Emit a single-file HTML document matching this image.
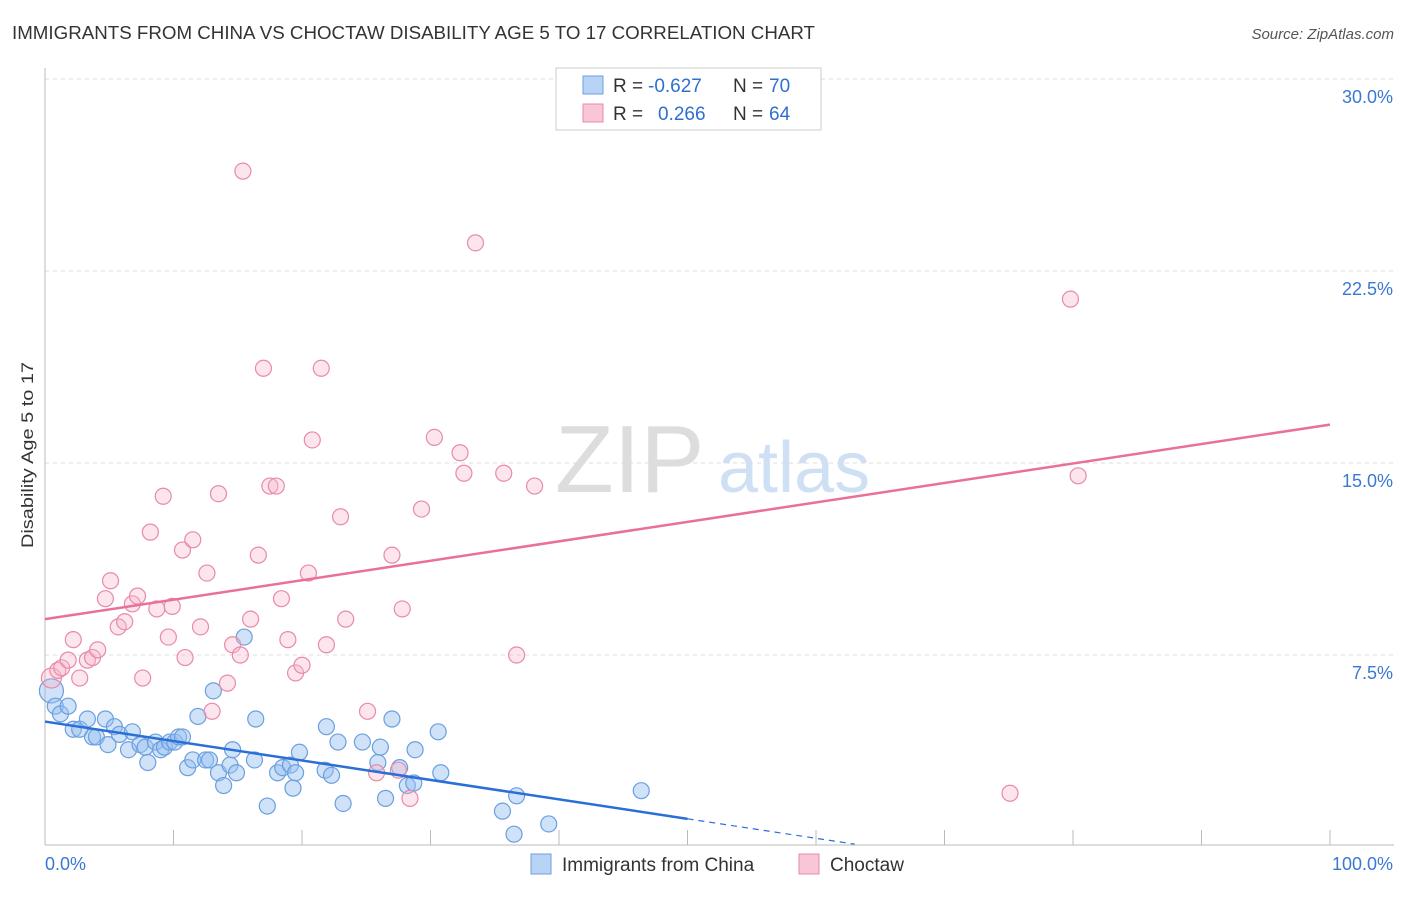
<!DOCTYPE html>
<html><head><meta charset="utf-8"><style>
body{margin:0;background:#fff;font-family:"Liberation Sans",sans-serif}
svg text{font-family:"Liberation Sans",sans-serif}
</style></head><body>
<svg id="chart" width="1406" height="892" xmlns="http://www.w3.org/2000/svg">
<text x="12" y="39" font-size="18" fill="#333" textLength="803" lengthAdjust="spacingAndGlyphs">IMMIGRANTS FROM CHINA VS CHOCTAW DISABILITY AGE 5 TO 17 CORRELATION CHART</text>
<text x="1394" y="39" font-size="15" fill="#555" text-anchor="end" font-style="italic">Source: ZipAtlas.com</text>
<text transform="translate(33,455) rotate(-90)" font-size="17" fill="#333" text-anchor="middle" textLength="186" lengthAdjust="spacingAndGlyphs">Disability Age 5 to 17</text>
<text x="555" y="492" font-size="96" fill="#ddd" font-family="Liberation Serif">ZIP</text>
<text x="718" y="492" font-size="72" fill="#cfe0f5">atlas</text>
<g id="grid"></g><g id="axes"></g><g id="pts"></g><g id="lines"></g>
<g>
<rect x="556" y="68" width="265" height="62" fill="#fff" stroke="#ccc"/>
<rect x="583" y="76" width="20" height="18" fill="#b8d3f5" stroke="#6a9fe0"/>
<text x="613" y="92" font-size="19" fill="#333">R =</text>
<text x="648" y="92" font-size="19" fill="#2f6fd0">-0.627</text>
<text x="733" y="92" font-size="19" fill="#333">N =</text>
<text x="769" y="92" font-size="19" fill="#2f6fd0">70</text>
<rect x="583" y="104" width="20" height="18" fill="#f8c6d6" stroke="#e88aa8"/>
<text x="613" y="120" font-size="19" fill="#333">R =</text>
<text x="658" y="120" font-size="19" fill="#2f6fd0">0.266</text>
<text x="733" y="120" font-size="19" fill="#333">N =</text>
<text x="769" y="120" font-size="19" fill="#2f6fd0">64</text>
</g>
<g>
<rect x="531" y="854" width="20" height="20" fill="#b8d3f5" stroke="#6a9fe0"/>
<text x="562" y="871" font-size="19" fill="#333">Immigrants from China</text>
<rect x="799" y="854" width="20" height="20" fill="#f8c6d6" stroke="#e88aa8"/>
<text x="830" y="871" font-size="19" fill="#333">Choctaw</text>
</g>
</svg>
<script>
const blueX=[0.5,0.8,1.2,1.8,2.2,2.7,3.3,3.7,4.0,4.7,4.9,5.4,5.8,6.5,6.8,7.4,7.8,8.0,8.6,9.0,9.3,9.7,10.1,10.4,10.7,11.1,11.5,11.9,12.5,12.8,13.1,13.5,13.9,14.4,14.6,14.9,15.5,16.3,16.4,17.3,18.1,18.5,19.1,19.3,19.5,19.8,21.8,21.9,22.3,22.8,23.2,24.7,25.9,26.1,26.5,27.0,27.6,28.2,28.7,28.8,30.6,30.8,35.6,36.5,36.7,39.2,46.4];
const blueY=[6.1,5.5,5.2,5.5,4.6,4.6,5.0,4.3,4.3,5.0,4.0,4.7,4.4,3.8,4.5,4.0,3.9,3.3,4.1,3.8,3.9,4.1,4.1,4.3,4.3,3.1,3.4,5.1,3.4,3.4,6.1,2.9,2.4,3.2,3.8,2.9,8.2,3.4,5.0,1.6,2.9,3.1,3.2,2.3,2.9,3.7,3.0,4.7,2.8,4.1,1.7,4.1,3.3,3.9,1.9,5.0,3.1,2.4,2.5,3.8,4.5,2.9,1.4,0.5,2.0,0.9,2.2];
const pinkX=[0.5,1.0,1.3,1.8,2.2,2.7,3.3,3.7,4.1,4.7,5.1,5.7,6.2,6.8,7.2,7.6,8.2,8.7,9.2,9.6,9.9,10.7,10.9,11.5,12.1,12.6,13.0,13.5,14.2,14.6,15.2,15.4,16.0,16.6,17.0,17.5,18.0,18.4,18.9,19.5,20.0,20.5,20.8,21.5,21.9,23.0,23.4,25.1,25.8,27.0,27.5,27.8,28.4,29.3,30.3,32.3,32.6,33.5,35.7,36.7,38.1,75.1,79.8,80.4];
const pinkY=[6.6,6.9,7.0,7.3,8.1,6.6,7.3,7.4,7.7,9.7,10.4,8.6,8.8,9.5,9.8,6.6,12.3,9.3,13.7,8.2,9.4,11.6,7.4,12.0,8.6,10.7,5.3,13.8,6.4,7.9,7.5,26.4,8.9,11.4,18.7,14.1,14.1,9.7,8.1,6.8,7.1,10.7,15.9,18.7,7.9,12.9,8.9,5.3,2.9,11.4,3.0,9.3,1.9,13.2,16.0,15.4,14.6,23.6,14.6,7.5,14.1,2.1,21.4,14.5];
const yTicks=[7.5,15,22.5,30];
const yTickLabels=["7.5%","15.0%","22.5%","30.0%"];
const blueFit=[4.9,-0.076];
const pinkFit=[8.9,0.076];
const X=v=>45+v*12.85, Y=v=>847-v*25.6;
const NS="http://www.w3.org/2000/svg";
function mk(t,a,p){const e=document.createElementNS(NS,t);for(const k in a)e.setAttribute(k,a[k]);p.appendChild(e);return e;}
const g=document.getElementById('grid'),ax=document.getElementById('axes'),pts=document.getElementById('pts'),ln=document.getElementById('lines');
yTicks.forEach((t,i)=>{
 const l=mk('line',{x1:45,x2:1394,y1:Y(t),y2:Y(t),stroke:'#ddd','stroke-dasharray':'4,4'},g);
 
 
 const tx=mk('text',{x:1393,y:Y(t)+24,'font-size':18,fill:'#3a78d4','text-anchor':'end'},g);
 tx.textContent=yTickLabels[i];
 
 
});
mk('line',{x1:45,x2:45,y1:68,y2:845,stroke:'#bbb'},ax);
mk('line',{x1:45,x2:1394,y1:845,y2:845,stroke:'#bbb'},ax);
for(let i=0;i<=10;i++){mk('line',{x1:X(i*10),x2:X(i*10),y1:830,y2:845,stroke:'#bbb'},ax);}
let t0=mk('text',{x:45,y:870,'font-size':18,fill:'#3a78d4'},ax);t0.textContent='0.0%';


let t1=mk('text',{x:1393,y:870,'font-size':18,fill:'#3a78d4','text-anchor':'end'},ax);t1.textContent='100.0%';


blueX.forEach((x,i)=>{const c=mk('circle',{cx:X(x),cy:Y(blueY[i]),r:i==0?12:8,fill:'rgba(150,190,240,0.45)',stroke:'#6a9fe0','stroke-width':1.2},pts);
 
 });
pinkX.forEach((x,i)=>{const c=mk('circle',{cx:X(x),cy:Y(pinkY[i]),r:i==0?10:8,fill:'rgba(245,180,204,0.35)',stroke:'#e88aa8','stroke-width':1.2},pts);
 
 });
const bf=x=>blueFit[0]+blueFit[1]*x, pf=x=>pinkFit[0]+pinkFit[1]*x;
let b1=mk('line',{x1:X(0),y1:Y(bf(0)),x2:X(50),y2:Y(bf(50)),stroke:'#2a6fd6','stroke-width':2.5},ln);


let b2=mk('line',{x1:X(50),y1:Y(bf(50)),x2:X(63),y2:Y(bf(63)),stroke:'#2a6fd6','stroke-width':1.2,'stroke-dasharray':'6,5'},ln);


let p1=mk('line',{x1:X(0),y1:Y(pf(0)),x2:X(100),y2:Y(pf(100)),stroke:'#e8709a','stroke-width':2.5},ln);


</script>
</body></html>
